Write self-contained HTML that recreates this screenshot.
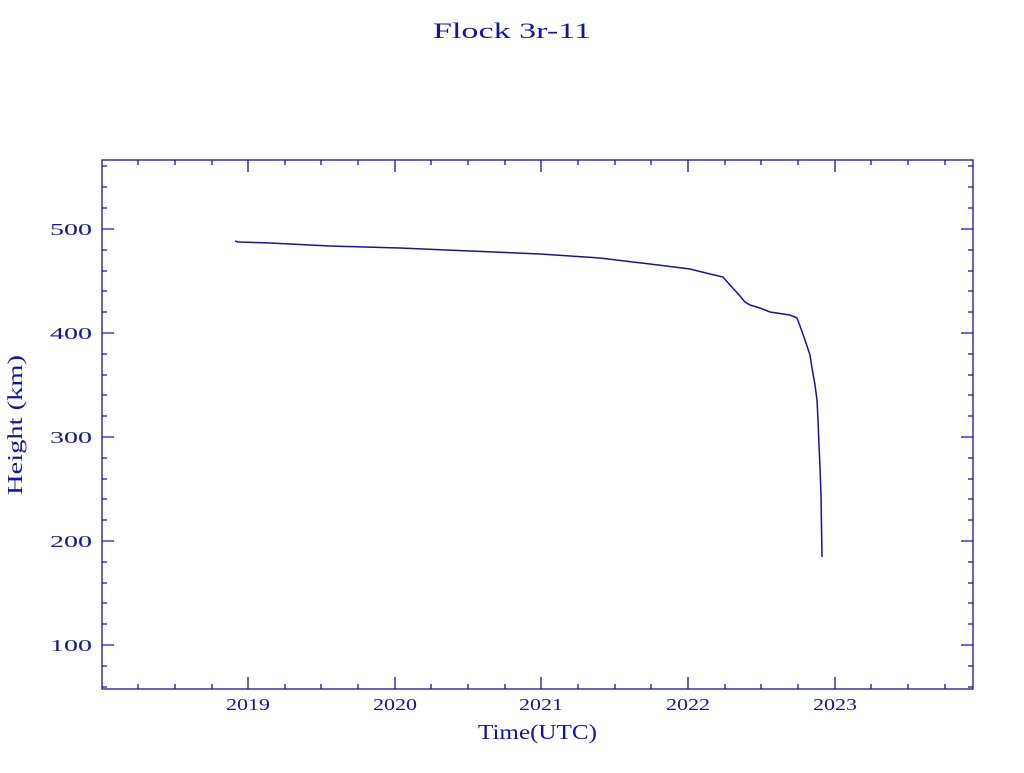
<!DOCTYPE html>
<html><head><style>body{margin:0;background:#fff}svg text{font-family:"Liberation Serif",serif;fill:#1414a0}</style></head>
<body>
<svg width="1024" height="768" xmlns="http://www.w3.org/2000/svg">
<rect width="1024" height="768" fill="#fff"/>
<text x="433" y="38" font-size="22" textLength="158" lengthAdjust="spacingAndGlyphs">Flock 3r-11</text>
<g stroke="#1414a0" stroke-width="1.3" fill="none">
<rect x="102" y="160" width="871" height="529"/>
<path d="
M248,689v-12M395,689v-12M541,689v-12M688,689v-12M835,689v-12
M248,160v12M395,160v12M541,160v12M688,160v12M835,160v12
M138,689v-5M175,689v-5M212,689v-5M285,689v-5M321,689v-5M358,689v-5M431,689v-5M468,689v-5M505,689v-5M578,689v-5M615,689v-5M651,689v-5M725,689v-5M761,689v-5M798,689v-5M871,689v-5M908,689v-5M945,689v-5
M138,160v5M175,160v5M212,160v5M285,160v5M321,160v5M358,160v5M431,160v5M468,160v5M505,160v5M578,160v5M615,160v5M651,160v5M725,160v5M761,160v5M798,160v5M871,160v5M908,160v5M945,160v5
M102,229h12M102,333h12M102,437h12M102,541h12M102,645h12
M973,229h-12M973,333h-12M973,437h-12M973,541h-12M973,645h-12
M102,166h5M102,187h5M102,208h5M102,250h5M102,271h5M102,291h5M102,312h5M102,354h5M102,375h5M102,395h5M102,416h5M102,458h5M102,479h5M102,499h5M102,520h5M102,562h5M102,583h5M102,603h5M102,624h5M102,666h5M102,687h5
M973,166h-5M973,187h-5M973,208h-5M973,250h-5M973,271h-5M973,291h-5M973,312h-5M973,354h-5M973,375h-5M973,395h-5M973,416h-5M973,458h-5M973,479h-5M973,499h-5M973,520h-5M973,562h-5M973,583h-5M973,603h-5M973,624h-5M973,666h-5M973,687h-5"/>
<path stroke-width="1.5" d="M235,241L238,242L270,243L330,246L400,248L470,251L540,254L600,258L650,264L690,269L710,274L723,277L730,285L740,296L745,302L750,305L760,308L770,312L790,315L797,318L800,326L805,340L810,355L812,368L815,385L817,400L818,420L819,445L820,467L821,495L822,557"/>
</g>
<g font-size="17">
<text x="50" y="235" textLength="42" lengthAdjust="spacingAndGlyphs">500</text>
<text x="50" y="339" textLength="42" lengthAdjust="spacingAndGlyphs">400</text>
<text x="50" y="443" textLength="42" lengthAdjust="spacingAndGlyphs">300</text>
<text x="50" y="547" textLength="42" lengthAdjust="spacingAndGlyphs">200</text>
<text x="50" y="651" textLength="42" lengthAdjust="spacingAndGlyphs">100</text>
<text x="226" y="710" textLength="44" lengthAdjust="spacingAndGlyphs">2019</text>
<text x="373" y="710" textLength="44" lengthAdjust="spacingAndGlyphs">2020</text>
<text x="519" y="710" textLength="44" lengthAdjust="spacingAndGlyphs">2021</text>
<text x="666" y="710" textLength="44" lengthAdjust="spacingAndGlyphs">2022</text>
<text x="813" y="710" textLength="44" lengthAdjust="spacingAndGlyphs">2023</text>
</g>
<text x="478" y="739" font-size="21" textLength="119" lengthAdjust="spacingAndGlyphs">Time(UTC)</text>
<text transform="translate(22,495) rotate(-90)" font-size="21" textLength="140" lengthAdjust="spacingAndGlyphs">Height (km)</text>
</svg>
</body></html>
